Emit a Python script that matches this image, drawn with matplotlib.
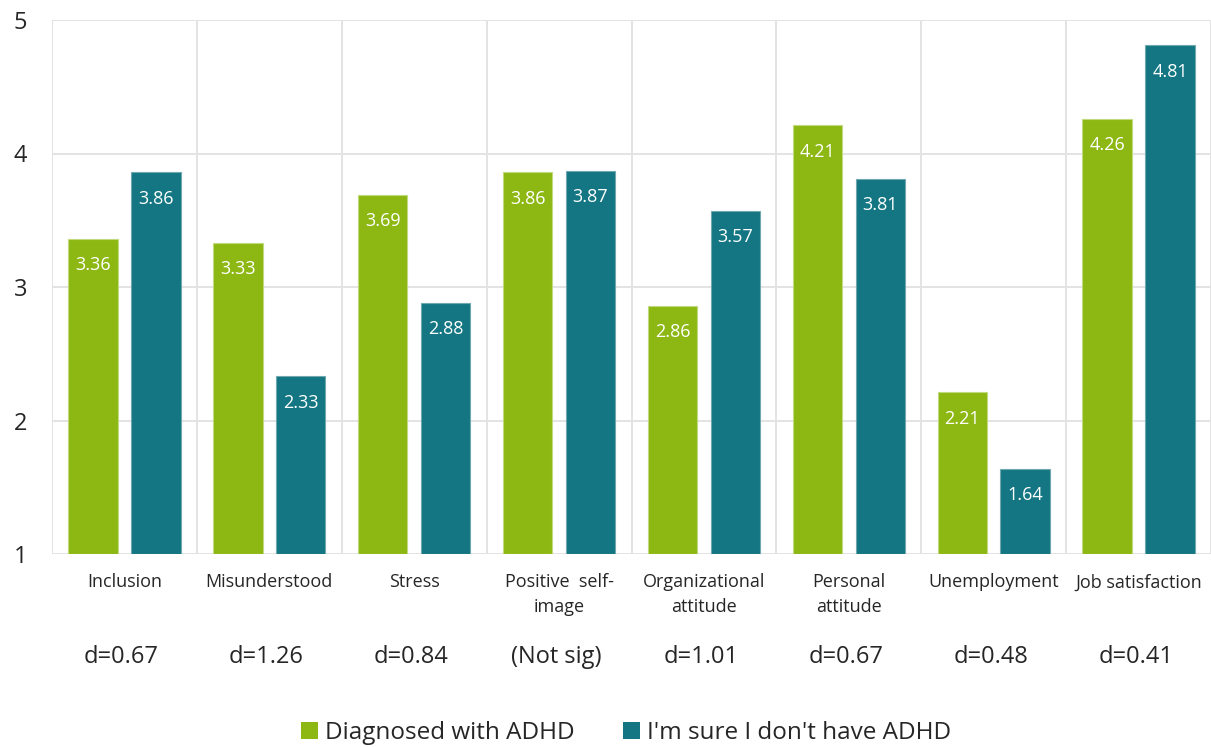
import numpy as np
import matplotlib.pyplot as plt
from matplotlib.patches import Patch
import matplotlib.transforms as mtransforms

plt.rcParams['font.family'] = ['Open Sans', 'DejaVu Sans']

categories = ["Inclusion", "Misunderstood", "Stress", "Positive  self-\nimage",
              "Organizational\nattitude", "Personal\nattitude", "Unemployment",
              "Job satisfaction"]
diagnosed = [3.36, 3.33, 3.69, 3.86, 2.86, 4.21, 2.21, 4.26]
not_adhd = [3.86, 2.33, 2.88, 3.87, 3.57, 3.81, 1.64, 4.81]
effect = ["d=0.67", "d=1.26", "d=0.84", "(Not sig)", "d=1.01", "d=0.67",
          "d=0.48", "d=0.41"]
series_names = ["Diagnosed with ADHD", "I'm sure I don't have ADHD"]

green = '#8DB814'
teal = '#137682'
grid_c = '#E3E3E3'
text_c = '#262626'

fig = plt.figure(figsize=(12.11, 7.47), dpi=100)
ax = fig.add_axes([52/1211, 1-554/747, 1-52/1211, 534/747])

x = np.arange(len(categories))
w = 0.34
off = 0.217
base = 1

ax.bar(x - off, np.array(diagnosed) - base, w, bottom=base, color=green,
       edgecolor='#C2DA7E', linewidth=0.8, zorder=3)
ax.bar(x + off, np.array(not_adhd) - base, w, bottom=base, color=teal,
       edgecolor='#6FA8AF', linewidth=0.8, zorder=3)

for xs, vals in [(x - off, diagnosed), (x + off, not_adhd)]:
    for xi, v in zip(xs, vals):
        ax.annotate(f"{v:.2f}", (xi, v), xytext=(0, -19), textcoords='offset points',
                    ha='center', va='center', color='white', fontsize=13, zorder=4)

ax.set_xlim(-0.5, len(categories) - 0.5)
ax.set_ylim(1, 5)
ax.set_yticks([1, 2, 3, 4, 5])
ax.set_xticks(x)
ax.set_xticklabels(categories, fontsize=13, color=text_c, linespacing=1.5)
ax.set_xticks(np.arange(-0.5, len(categories)), minor=True)
ax.tick_params(axis='x', which='both', length=0, pad=14)
ax.tick_params(axis='y', length=0, pad=18, labelsize=17, labelcolor=text_c)

ax.grid(axis='y', color=grid_c, linewidth=1.4, zorder=0)
ax.grid(axis='x', which='minor', color=grid_c, linewidth=1.4, zorder=0)
ax.grid(axis='x', which='major', visible=False)
for s in ax.spines.values():
    s.set_visible(False)

# effect sizes under each category
trans = mtransforms.blended_transform_factory(ax.transData, ax.transAxes)
for xi, d in zip(x, effect):
    ax.text(xi - 0.02, -0.193, d, transform=trans, ha='center', va='center',
            fontsize=17, color=text_c)

handles = [Patch(facecolor=green), Patch(facecolor=teal)]
fig.legend(handles, series_names, loc='center', bbox_to_anchor=(0.517, 0.019),
           ncol=2, frameon=False, fontsize=17.5, handlelength=0.7, handleheight=0.7,
           handletextpad=0.3, columnspacing=2.0, labelcolor=text_c)

fig.savefig('out.png', dpi=100)
